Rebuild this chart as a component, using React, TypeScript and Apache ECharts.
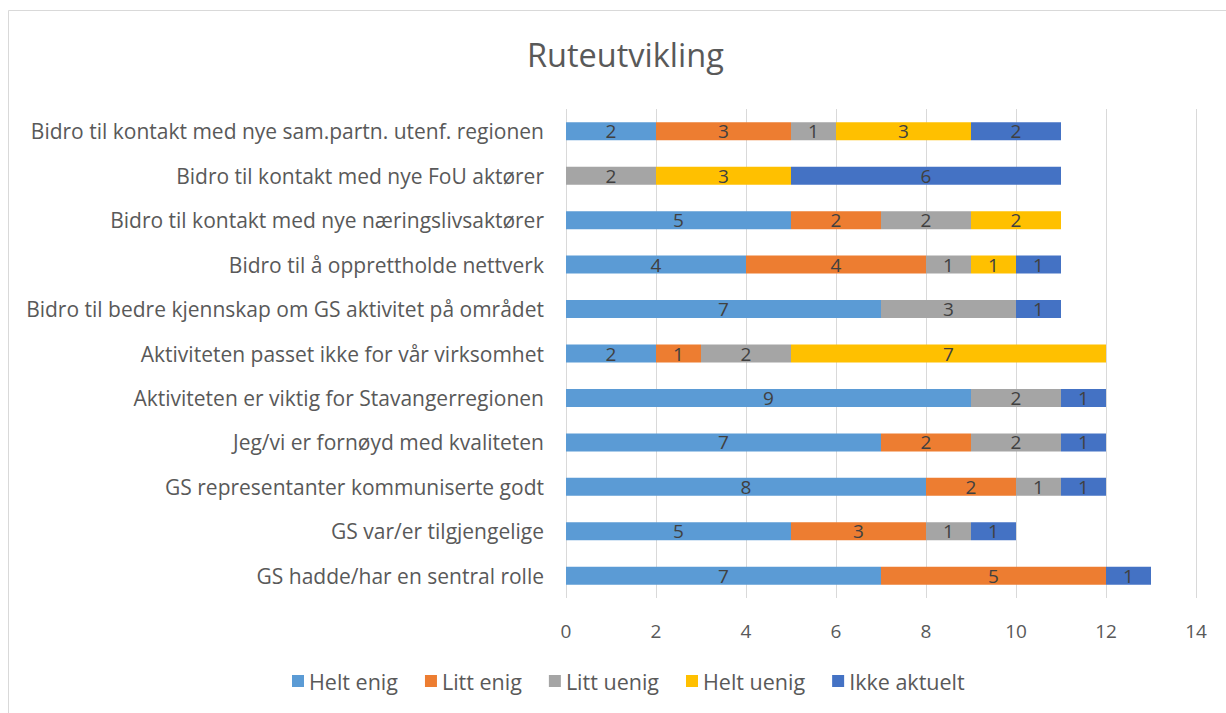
import React, { useEffect, useRef } from "react";
import * as echarts from "echarts";

const categories = [
  "Bidro til kontakt med nye sam.partn. utenf. regionen",
  "Bidro til kontakt med nye FoU aktører",
  "Bidro til kontakt med nye næringslivsaktører",
  "Bidro til å opprettholde nettverk",
  "Bidro til bedre kjennskap om GS aktivitet på området",
  "Aktiviteten passet ikke for vår virksomhet",
  "Aktiviteten er viktig for Stavangerregionen",
  "Jeg/vi er fornøyd med kvaliteten",
  "GS representanter kommuniserte godt",
  "GS var/er tilgjengelige",
  "GS hadde/har en sentral rolle",
];

const heltEnig = [2, 0, 5, 4, 7, 2, 9, 7, 8, 5, 7];
const littEnig = [3, 0, 2, 4, 0, 1, 0, 2, 2, 3, 5];
const littUenig = [1, 2, 2, 1, 3, 2, 2, 2, 1, 1, 0];
const heltUenig = [3, 3, 2, 1, 0, 7, 0, 0, 0, 0, 0];
const ikkeAktuelt = [2, 6, 0, 1, 1, 0, 1, 1, 1, 1, 1];

const seriesNames = ["Helt enig", "Litt enig", "Litt uenig", "Helt uenig", "Ikke aktuelt"];
const seriesData = [heltEnig, littEnig, littUenig, heltUenig, ikkeAktuelt];
const colors = ["#5B9BD5", "#ED7D31", "#A5A5A5", "#FFC000", "#4472C4"];

const FONT = "'Open Sans', 'Noto Sans', sans-serif";

export default function App() {
  const ref = useRef<HTMLDivElement>(null);
  useEffect(() => {
    document.body.style.margin = "0";
    const chart = echarts.init(ref.current!, null, { renderer: "svg" });
    chart.setOption({
      animation: false,
      color: colors,
      textStyle: { fontFamily: FONT },
      title: {
        text: "Ruteutvikling",
        left: 522,
        top: 33,
        textStyle: { fontSize: 32.5, fontWeight: "normal", color: "#595959", fontFamily: FONT },
      },
      graphic: [
        {
          type: "rect",
          shape: { x: 8.5, y: 10.5, width: 1240, height: 720 },
          style: { fill: "none", stroke: "#d9d9d9", lineWidth: 1 },
          silent: true,
        },
      ],
      legend: {
        bottom: 16,
        left: 287,
        itemWidth: 12,
        itemHeight: 12,
        itemGap: 27,
        icon: "rect",
        textStyle: { fontSize: 21.5, color: "#595959", fontFamily: FONT },
        data: seriesNames,
      },
      grid: { left: 566, right: 30, top: 109, bottom: 115, containLabel: false },
      xAxis: {
        type: "value",
        min: 0,
        max: 14,
        interval: 2,
        axisLine: { show: false },
        axisTick: { show: false },
        axisLabel: { fontSize: 19, color: "#595959", margin: 23, fontFamily: FONT },
        splitLine: { lineStyle: { color: "#d9d9d9", width: 1 } },
      },
      yAxis: {
        type: "category",
        data: categories,
        inverse: true,
        axisLine: { show: false },
        axisTick: { show: false },
        axisLabel: { fontSize: 21, color: "#595959", margin: 22, fontFamily: FONT },
      },
      series: seriesNames.map((name, i) => ({
        name,
        type: "bar",
        stack: "total",
        barWidth: 18,
        data: seriesData[i],
        itemStyle: { color: colors[i] },
        label: {
          show: true,
          position: "inside",
          color: "#404040",
          fontSize: 19,
          fontFamily: FONT,
          formatter: (p: any) => (p.value ? String(p.value) : ""),
        },
      })),
    });
    return () => chart.dispose();
  }, []);
  return <div ref={ref} style={{ width: 1226, height: 713 }} />;
}
